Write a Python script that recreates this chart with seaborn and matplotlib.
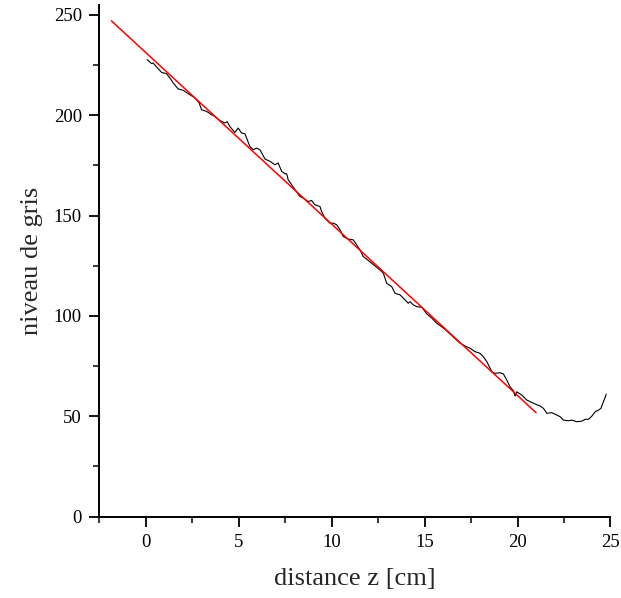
import numpy as np
import pandas as pd
import seaborn as sb
import matplotlib
matplotlib.use('Agg')
import matplotlib.pyplot as plt
from matplotlib.ticker import MultipleLocator

z_cm = [0.07, 0.31, 0.39, 0.58, 0.85, 1.11, 1.33, 1.47, 1.74, 2.01, 2.37, 2.64, 2.87, 3.00,
        3.27, 3.54, 3.72, 3.98, 4.25, 4.38, 4.52, 4.79, 4.97, 5.15, 5.33, 5.60, 5.78, 5.96,
        6.14, 6.41, 6.68, 6.95, 7.12, 7.31, 7.49, 7.58, 7.66, 8.29, 8.47, 8.74, 8.92, 9.10,
        9.37, 9.46, 9.64, 9.91, 10.09, 10.27, 10.45, 10.62, 10.89, 11.16, 11.35, 11.52, 11.70,
        11.88, 12.60, 12.78, 12.96, 13.23, 13.41, 13.68, 13.95, 14.12, 14.22, 14.39, 14.58,
        14.85, 15.12, 15.39, 15.65, 15.92, 16.10, 16.91, 17.18, 17.45, 17.71, 17.98, 18.16,
        18.35, 18.62, 18.79, 19.06, 19.24, 19.42, 19.60, 19.78, 19.87, 19.96, 20.23, 20.50,
        20.95, 21.22, 21.39, 21.58, 21.85, 22.12, 22.29, 22.47, 22.74, 22.92, 23.19, 23.46,
        23.64, 23.82, 24.00, 24.18, 24.36, 24.49, 24.59, 24.72, 24.77]
gris = [227.7, 225.7, 226.0, 224.0, 221.3, 220.7, 218.1, 216.1, 213.1, 212.4, 210.2, 208.6,
        206.1, 202.7, 201.9, 200.2, 199.4, 197.4, 196.1, 196.8, 194.4, 191.4, 193.6, 191.1,
        190.8, 184.4, 182.8, 183.6, 182.8, 178.2, 177.0, 175.3, 176.2, 172.0, 170.8, 170.8,
        167.8, 159.5, 158.7, 157.0, 157.5, 155.4, 154.5, 152.0, 148.7, 146.2, 146.2, 145.4,
        142.9, 139.6, 138.3, 137.9, 135.4, 132.9, 129.6, 128.3, 122.9, 121.3, 116.3, 114.6,
        111.3, 110.5, 108.0, 106.3, 107.1, 105.5, 104.6, 104.3, 101.0, 98.9, 96.4, 94.6, 93.3,
        86.4, 85.0, 83.9, 82.2, 81.4, 79.7, 77.2, 72.2, 71.4, 71.7, 71.1, 68.1, 64.7, 62.7,
        60.1, 62.2, 60.6, 58.1, 56.1, 55.1, 54.0, 51.5, 51.8, 50.6, 49.8, 48.1, 47.8, 48.1,
        47.3, 47.6, 48.5, 48.5, 50.1, 52.3, 53.1, 54.0, 56.5, 59.5, 61.1]

# ajustement lineaire
fit_z = [-1.85, 21.0]
fit_gris = [247.0, 51.8]

sb.set_style('ticks')
plt.rcParams['font.family'] = ['Liberation Serif', 'DejaVu Serif']

fig = plt.figure(figsize=(6.21, 5.98), dpi=100)
ax = fig.add_axes([0.160, 0.136, 0.823, 0.856])

sb.lineplot(x=z_cm, y=gris, sort=False, estimator=None, color='black', lw=0.8, ax=ax)
sb.lineplot(x=fit_z, y=fit_gris, sort=False, estimator=None, color='#ff0000', lw=1.1, ax=ax)

ax.set_xlim(-2.5, 25)
ax.set_ylim(0, 255)
ax.xaxis.set_major_locator(MultipleLocator(5))
ax.xaxis.set_minor_locator(MultipleLocator(2.5))
ax.yaxis.set_major_locator(MultipleLocator(50))
ax.yaxis.set_minor_locator(MultipleLocator(25))

sb.despine(ax=ax)
for s in ['left', 'bottom']:
    ax.spines[s].set_linewidth(1.4)
    ax.spines[s].set_color('black')
ax.tick_params(which='major', direction='out', length=7.5, width=1.3, labelsize=13.5,
               colors='black', pad=5)
ax.tick_params(which='minor', direction='out', length=4, width=1.3)

ax.set_xlabel('distance z [cm]', fontsize=19, labelpad=12)
ax.set_ylabel('niveau de gris', fontsize=19, labelpad=8)

fig.savefig('out.png', dpi=100)
